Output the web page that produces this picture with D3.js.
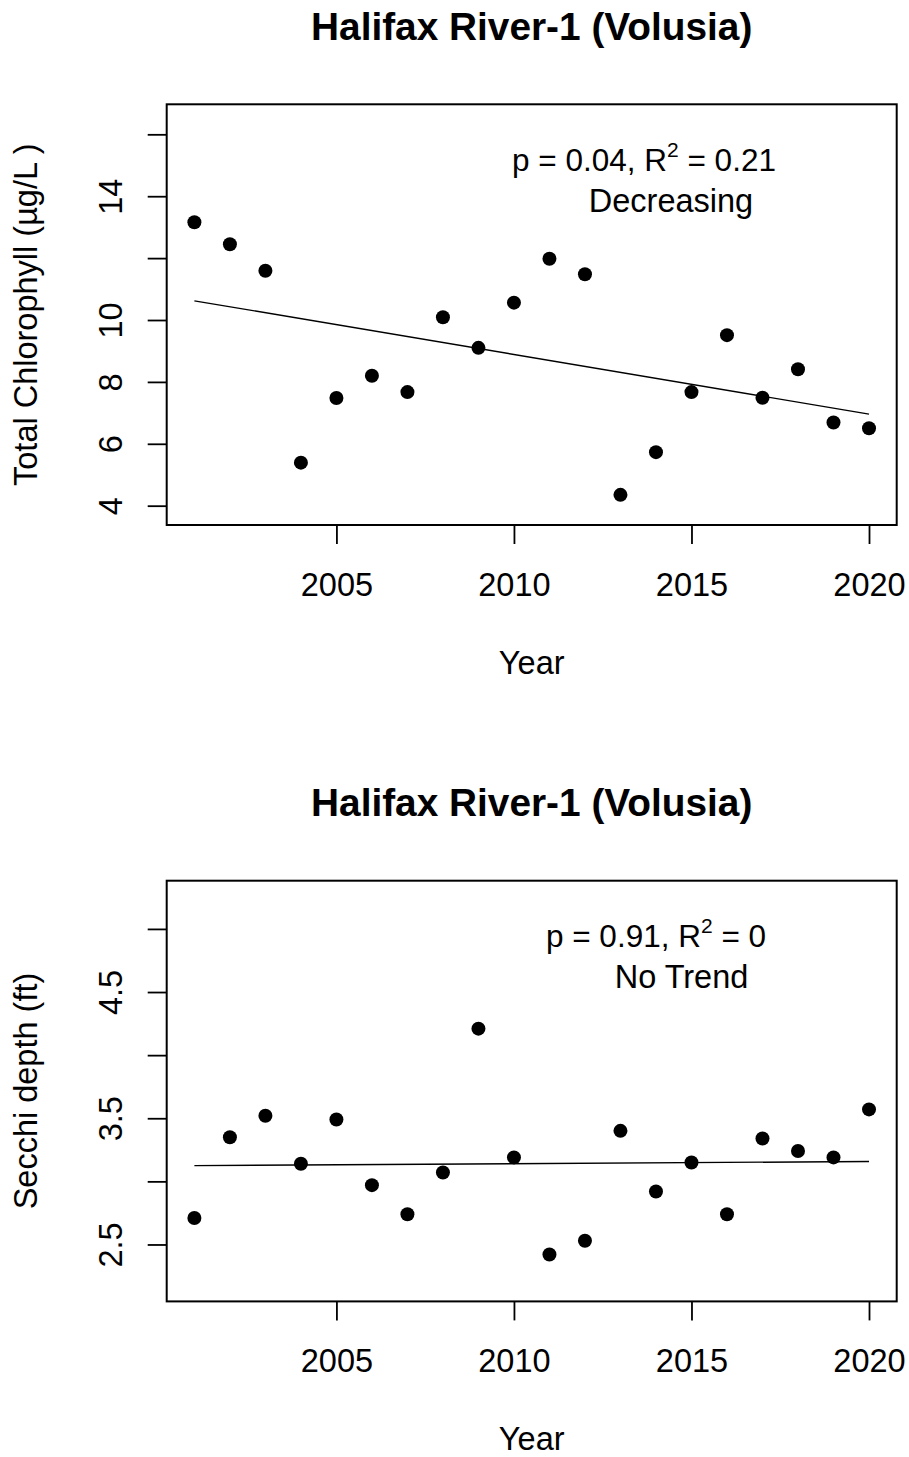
<!DOCTYPE html>
<html>
<head>
<meta charset="utf-8">
<script src="https://cdn.jsdelivr.net/npm/d3@7"></script>
<style>
  html, body { margin: 0; padding: 0; background: #fff; }
  svg { display: block; }
  text { font-family: "Liberation Sans", Arial, sans-serif; fill: #000; }
</style>
</head>
<body>
<svg id="chart" width="909" height="1457"></svg>
<script>
// ---- Data ----
const years = [2001, 2002, 2003, 2004, 2005, 2006, 2007, 2008, 2009, 2010,
               2011, 2012, 2013, 2014, 2015, 2016, 2017, 2018, 2019, 2020];
const chlorophyll = [13.16, 12.45, 11.59, 5.39, 7.48, 8.20, 7.67, 10.09, 9.10, 10.56,
                     11.98, 11.48, 4.35, 5.73, 7.67, 9.51, 7.49, 8.41, 6.69, 6.50];
const secchi = [2.71, 3.35, 3.52, 3.14, 3.49, 2.97, 2.74, 3.07, 4.21, 3.19,
                2.42, 2.53, 3.40, 2.92, 3.15, 2.74, 3.34, 3.24, 3.19, 3.57];
const chlTrendYears = [2001, 2020];
const chlTrend = [10.62, 6.96];
const secTrendYears = [2001, 2020];
const secTrend = [3.125, 3.157];
const xTicks = [2005, 2010, 2015, 2020];
const chlTicks = [4, 6, 8, 10, 12, 14, 16];
const chlTickLabels = ["4", "6", "8", "10", "", "14", ""];
const secTicks = [2.5, 3, 3.5, 4, 4.5, 5];
const secTickLabels = ["2.5", "", "3.5", "", "4.5", ""];
const titles = ["Halifax River-1 (Volusia)", "Halifax River-1 (Volusia)"];
const yLabels = ["Total Chlorophyll (\u00b5g/L )", "Secchi depth (ft)"];
const statLines = [["p = 0.04, R", "2", " = 0.21"], ["p = 0.91, R", "2", " = 0"]];
const trendLabels = ["Decreasing", "No Trend"];

// ---- Layout ----
const svg = d3.select("#chart");
const left = 166.7, right = 896.7;
const FS = 32.5;

function panel(cfg) {
  const g = svg.append("g").attr("transform", `translate(0,${cfg.offset})`);
  const top = 104.3, bottom = 525;
  const x = d3.scaleLinear().domain([2000.22, 2020.78]).range([left, right]);
  const y = d3.scaleLinear().domain(cfg.yDomain).range([bottom, top]);

  // title
  g.append("text").attr("x", (left + right) / 2).attr("y", 40)
    .attr("text-anchor", "middle").attr("font-weight", "bold")
    .attr("font-size", 38.8).text(cfg.title);

  // x axis
  const xa = g.append("g").attr("transform", `translate(0,${bottom})`)
    .call(d3.axisBottom(x).tickValues(xTicks).tickFormat(d3.format("d"))
      .tickSize(19).tickSizeOuter(0));
  xa.select(".domain").remove();
  xa.selectAll("line").attr("stroke", "#000").attr("stroke-width", 1.8);
  xa.selectAll("text").attr("font-size", FS).attr("dy", null).attr("y", 71)
    .style("font-family", "'Liberation Sans', Arial, sans-serif");

  // y axis
  const labMap = new Map(cfg.ticks.map((t, i) => [t, cfg.tickLabels[i]]));
  const ya = g.append("g").attr("transform", `translate(${left},0)`)
    .call(d3.axisLeft(y).tickValues(cfg.ticks).tickFormat(d => labMap.get(d))
      .tickSize(19).tickSizeOuter(0));
  ya.select(".domain").remove();
  ya.selectAll("line").attr("stroke", "#000").attr("stroke-width", 1.8);
  ya.selectAll("text").attr("font-size", FS).attr("dy", null)
    .attr("x", null).attr("y", null)
    .attr("text-anchor", "middle")
    .attr("transform", "translate(-44.5,0) rotate(-90)")
    .style("font-family", "'Liberation Sans', Arial, sans-serif");

  // box
  g.append("rect").attr("x", left).attr("y", top)
    .attr("width", right - left).attr("height", bottom - top)
    .attr("fill", "none").attr("stroke", "#000").attr("stroke-width", 2);

  // axis titles
  g.append("text").attr("x", (left + right) / 2).attr("y", 673.5)
    .attr("text-anchor", "middle").attr("font-size", FS).text("Year");
  g.append("text")
    .attr("transform", `translate(36.5,${(top + bottom) / 2}) rotate(-90)`)
    .attr("text-anchor", "middle").attr("font-size", FS).text(cfg.yLabel);

  // trend line
  const tl = cfg.trendYears.map((yr, i) => [yr, cfg.trend[i]]);
  g.append("path").datum(tl)
    .attr("d", d3.line().x(d => x(d[0])).y(d => y(d[1])))
    .attr("fill", "none").attr("stroke", "#000").attr("stroke-width", 1.4);

  // points
  g.selectAll("circle.pt").data(years.map((yr, i) => [yr, cfg.values[i]]))
    .enter().append("circle").attr("class", "pt")
    .attr("cx", d => x(d[0])).attr("cy", d => y(d[1]))
    .attr("r", 7).attr("fill", "#000");

  // annotation
  const st = g.append("text").attr("x", cfg.statX).attr("y", cfg.statY)
    .attr("text-anchor", "middle").attr("font-size", FS - 1);
  st.append("tspan").text(cfg.stat[0]);
  st.append("tspan").attr("font-size", 21).attr("dy", -14).text(cfg.stat[1]);
  st.append("tspan").attr("dy", 14).text(cfg.stat[2]);
  g.append("text").attr("x", cfg.trendX).attr("y", cfg.statY + 41)
    .attr("text-anchor", "middle").attr("font-size", FS).text(cfg.trendLabel);
}

panel({
  offset: 0, title: titles[0], yLabel: yLabels[0],
  yDomain: [3.376, 16.97], ticks: chlTicks, tickLabels: chlTickLabels,
  values: chlorophyll, trendYears: chlTrendYears, trend: chlTrend,
  stat: statLines[0], trendLabel: trendLabels[0],
  statX: 644, trendX: 671, statY: 171
});
panel({
  offset: 776.4, title: titles[1], yLabel: yLabels[1],
  yDomain: [2.049, 5.382], ticks: secTicks, tickLabels: secTickLabels,
  values: secchi, trendYears: secTrendYears, trend: secTrend,
  stat: statLines[1], trendLabel: trendLabels[1],
  statX: 656, trendX: 681.5, statY: 171
});
</script>
</body>
</html>
